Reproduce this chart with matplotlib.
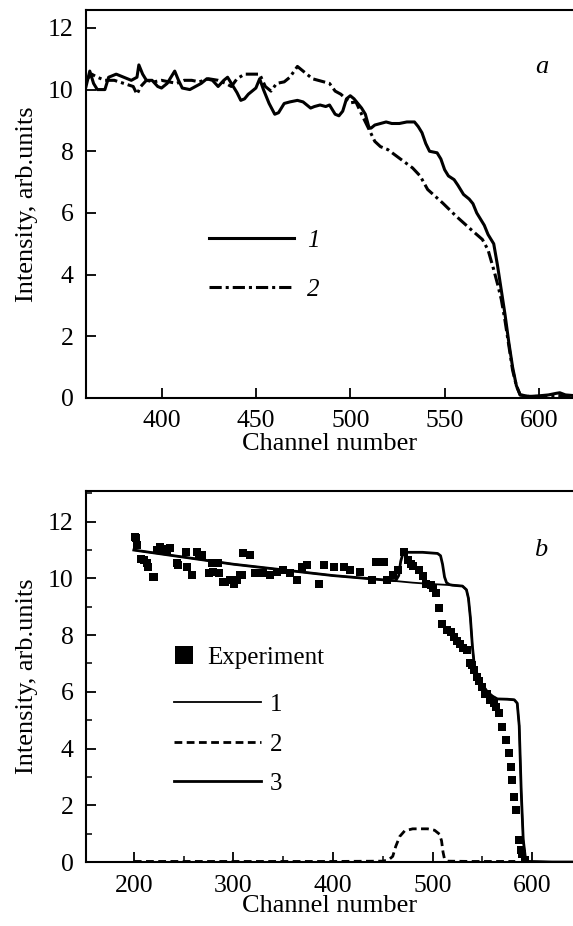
import numpy as np
import matplotlib
matplotlib.use("Agg")
import matplotlib.pyplot as plt
from matplotlib.ticker import MultipleLocator

# ---- panel a data ----
a1_x = [360, 362, 364, 366, 370, 372, 376, 380, 384, 387, 388, 390, 392, 395, 398,
        400, 403, 405, 407, 409, 411, 415, 418, 421, 424, 427, 430, 433, 435, 437,
        440, 442, 444, 446, 448, 450, 452, 454, 457, 460, 462, 465, 468, 472, 475,
        477, 479, 481, 484, 487, 489, 492, 494, 496, 498, 500, 502, 504, 506, 508,
        510, 511, 513, 516, 519, 522, 526, 530, 534, 536, 538, 540, 542, 546, 548,
        550, 552, 555, 557, 560, 563, 565, 567, 569, 571, 573, 576, 578, 580, 582,
        584, 586, 588, 590, 595, 600, 605, 609, 611, 614, 618]
a1_y = [10.1, 10.6, 10.2, 10.0, 10.0, 10.4, 10.5, 10.4, 10.3, 10.4, 10.8, 10.5, 10.3, 10.3, 10.1,
        10.05, 10.2, 10.4, 10.6, 10.3, 10.05, 10.0, 10.1, 10.2, 10.35, 10.3, 10.1, 10.3, 10.4, 10.2,
        9.9, 9.65, 9.7, 9.85, 9.95, 10.05, 10.35, 10.0, 9.55, 9.2, 9.25, 9.55, 9.6, 9.65, 9.6,
        9.5, 9.4, 9.45, 9.5, 9.45, 9.5, 9.2, 9.15, 9.3, 9.7, 9.8, 9.7, 9.55, 9.4, 9.2,
        8.75, 8.75, 8.85, 8.9, 8.95, 8.9, 8.9, 8.95, 8.95, 8.8, 8.6, 8.25, 8.0, 7.95, 7.75,
        7.4, 7.2, 7.08, 6.9, 6.6, 6.45, 6.3, 6.0, 5.8, 5.6, 5.3, 5.0, 4.3, 3.5, 2.7,
        1.8, 1.0, 0.4, 0.1, 0.05, 0.07, 0.1, 0.15, 0.17, 0.1, 0.08]

a2_x = [360, 363, 366, 370, 375, 380, 385, 387, 389, 392, 396, 400, 404, 408, 412,
        416, 420, 425, 430, 434, 437, 440, 444, 448, 452, 455, 458, 461, 465, 468,
        472, 476, 480, 483, 489, 492, 495, 500, 503, 506, 510, 513, 516, 520, 527,
        533, 537, 541, 549, 556, 564, 570, 573, 576, 578, 580, 582, 584, 586, 588,
        590, 595, 600, 610, 618]
a2_y = [10.3, 10.5, 10.4, 10.3, 10.3, 10.2, 10.1, 9.85, 10.1, 10.3, 10.25, 10.3, 10.25, 10.2, 10.3,
        10.3, 10.25, 10.35, 10.3, 10.2, 10.1, 10.35, 10.5, 10.5, 10.5, 10.1, 9.95, 10.2, 10.25, 10.4,
        10.75, 10.55, 10.35, 10.3, 10.2, 9.95, 9.85, 9.57, 9.6, 9.2, 8.7, 8.32, 8.15, 8.05, 7.73,
        7.46, 7.2, 6.76, 6.32, 5.9, 5.46, 5.14, 4.8, 4.16, 3.7, 3.2, 2.5, 1.7, 0.9, 0.4,
        0.1, 0.05, 0.05, 0.08, 0.06]

# ---- panel b data ----
exp_x = [201, 202, 203, 207.7, 210, 213.4, 214, 219.6, 220, 223, 226, 229, 233, 236,
         243.6, 244.6, 252.8, 253, 258, 263, 265.8, 268, 275, 278.7, 279.7, 284.6, 286,
         289.7, 291.7, 296.7, 301, 303.4, 306.4, 308.4, 310, 316.8, 321.8, 330, 337,
         343.7, 350, 357, 363.8, 368.8, 373.9, 385.6, 390.6, 400.7, 410.8, 417.5, 427.6,
         439.4, 443.5, 450.9, 454.6, 460, 465.6, 471, 474.9, 478, 480.4, 486.3, 490,
         493.4, 498, 500.7, 503, 506.5, 509.8, 514.8, 518, 521.5, 525, 528, 531, 534.8,
         537.7, 539.8, 542, 544.8, 547, 549.8, 552.5, 554.9, 558, 561.6, 563.6, 566.6,
         570, 573.3, 576.7, 578.4, 580, 581.7, 583.4, 586.7, 588.4, 590, 593]
exp_y = [11.47, 11.41, 11.18, 10.7, 10.65, 10.53, 10.4, 10.06, 10.06, 11.0, 11.1, 11.05, 11.0, 11.06,
         10.53, 10.47, 10.94, 10.41, 10.12, 10.94, 10.82, 10.82, 10.18, 10.53, 10.24, 10.53, 10.18,
         9.88, 9.88, 9.94, 9.82, 9.94, 10.12, 10.12, 10.88, 10.82, 10.18, 10.18, 10.12,
         10.24, 10.29, 10.18, 9.94, 10.41, 10.47, 9.82, 10.47, 10.41, 10.41, 10.29, 10.24,
         9.94, 10.59, 10.59, 9.94, 10.12, 10.29, 10.94, 10.65, 10.5, 10.42, 10.3, 10.1,
         9.82, 9.77, 9.65, 9.47, 8.94, 8.41, 8.18, 8.1, 7.94, 7.8, 7.7, 7.55, 7.47,
         7.0, 6.95, 6.76, 6.53, 6.4, 6.18, 5.94, 5.94, 5.7, 5.59, 5.47, 5.24,
         4.77, 4.3, 3.83, 3.35, 2.88, 2.3, 1.82, 0.76, 0.41, 0.3, 0.06]

b1_x = [200, 250, 300, 350, 400, 450, 480, 500, 520, 530, 534, 536, 538, 540, 542,
        545, 550, 555, 560, 565, 575, 582, 585, 587, 589, 591, 593, 596, 620, 641]
b1_y = [11.0, 10.75, 10.5, 10.3, 10.1, 9.95, 9.85, 9.8, 9.76, 9.73, 9.6, 9.3, 8.6, 7.6, 6.9,
        6.6, 6.25, 6.0, 5.85, 5.75, 5.74, 5.72, 5.6, 4.8, 2.5, 0.8, 0.2, 0.02, 0.0, 0.0]

b2_x = [200, 300, 400, 450, 456, 460, 463, 467, 472, 480, 495, 502, 507, 509, 510.5,
        512, 515, 540, 583]
b2_y = [0.02, 0.02, 0.02, 0.03, 0.08, 0.2, 0.55, 0.9, 1.1, 1.17, 1.17, 1.12, 0.98, 0.75, 0.35,
        0.1, 0.03, 0.02, 0.02]

b3_x = [200, 250, 300, 350, 400, 450, 463, 466, 468, 470, 473, 490, 505, 508, 510, 512,
        514, 517, 520, 530, 534, 536, 538, 540, 542, 545, 550, 555, 560, 565, 575,
        582, 585, 587, 589, 591, 593, 596, 620, 641]
b3_y = [11.0, 10.75, 10.5, 10.3, 10.1, 9.95, 9.92, 10.1, 10.6, 10.85, 10.92, 10.92, 10.88, 10.8, 10.5, 10.05,
        9.85, 9.78, 9.76, 9.73, 9.6, 9.3, 8.6, 7.6, 6.9, 6.6, 6.25, 6.0, 5.85, 5.75, 5.74,
        5.72, 5.6, 4.8, 2.5, 0.8, 0.2, 0.02, 0.0, 0.0]

plt.rcParams.update({
    "font.family": ["Liberation Serif", "DejaVu Serif"],
    "axes.linewidth": 1.5,
})

TICK_FS = 18.5
LAB_FS = 19

fig = plt.figure(figsize=(5.73, 9.26), dpi=100)
ax1 = fig.add_axes([0.1501, 0.5702, 0.8499, 0.4190])
ax2 = fig.add_axes([0.1501, 0.0691, 0.8499, 0.4006])


def style(ax):
    ax.spines["right"].set_visible(False)
    ax.tick_params(which="major", direction="in", length=7, width=1.3,
                   labelsize=TICK_FS, pad=9, top=False, right=False)
    ax.tick_params(which="minor", direction="in", length=4, width=1.1,
                   top=False, right=False)
    ax.set_xlabel("Channel number", fontsize=LAB_FS)
    ax.set_ylabel("Intensity, arb.units", fontsize=LAB_FS)
    ax.xaxis.set_label_coords(0.5, -0.118)
    ax.yaxis.set_label_coords(-0.121, 0.5)
    ax.xaxis.label.set_va("center")
    ax.yaxis.label.set_va("center")


# ---- panel a ----
ax1.plot(a1_x, a1_y, color="black", lw=2.2, label="1")
ax1.plot(a2_x, a2_y, color="black", lw=2.2, linestyle=(0, (4, 1.3, 1, 1.3)), label="2")
ax1.set_xlim(360, 618)
ax1.set_ylim(0, 12.58)
ax1.xaxis.set_major_locator(MultipleLocator(50))
ax1.yaxis.set_major_locator(MultipleLocator(2))
style(ax1)
ax1.text(0.936, 0.853, "a", transform=ax1.transAxes, fontsize=LAB_FS,
         style="italic", ha="center", va="center")
ax1.legend(loc="center left", bbox_to_anchor=(0.253, 0.3425),
           frameon=False, borderpad=0, borderaxespad=0,
           handlelength=3.4, handletextpad=0.5, labelspacing=1.05,
           prop={"size": 18, "style": "italic"})

# ---- panel b ----
ax2.plot(exp_x, exp_y, "s", color="black", ms=6.3, mew=0, label="Experiment")
l1, = ax2.plot(b1_x, b1_y, color="black", lw=1.3, label="1")
l2, = ax2.plot(b2_x, b2_y, color="black", lw=2.0, linestyle=(0, (2.8, 1.6)), label="2")
l3, = ax2.plot(b3_x, b3_y, color="black", lw=2.0, label="3")
ax2.set_xlim(152, 641)
ax2.set_ylim(0, 13.08)
ax2.xaxis.set_major_locator(MultipleLocator(100))
ax2.xaxis.set_minor_locator(MultipleLocator(50))
ax2.yaxis.set_major_locator(MultipleLocator(2))
ax2.yaxis.set_minor_locator(MultipleLocator(1))
style(ax2)
ax2.text(0.934, 0.841, "b", transform=ax2.transAxes, fontsize=LAB_FS,
         style="italic", ha="center", va="center")

leg_e = ax2.legend(handles=[ax2.lines[0]], loc="center left",
                   bbox_to_anchor=(0.18, 0.55), frameon=False, borderpad=0,
                   borderaxespad=0, handlelength=0.8, handletextpad=0.55,
                   markerscale=13 / 6.3, prop={"size": 18})
ax2.add_artist(leg_e)
ax2.legend(handles=[l1, l2, l3], loc="center left", bbox_to_anchor=(0.18, 0.317),
           frameon=False, borderpad=0, borderaxespad=0, handlelength=3.5,
           handletextpad=0.35, labelspacing=0.68, prop={"size": 18})

fig.savefig("out.png", dpi=100)
